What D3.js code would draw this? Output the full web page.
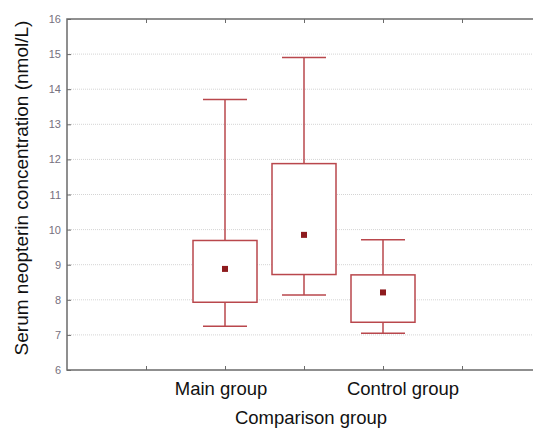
<!DOCTYPE html>
<html>
<head>
<meta charset="utf-8">
<script src="https://cdn.jsdelivr.net/npm/d3@7"></script>
<style>
  body { margin: 0; background: #fff; }
  svg { display: block; }
  text { font-family: "Liberation Sans", Arial, sans-serif; }
</style>
</head>
<body>
<div id="chart"></div>
<script>
// data
var groups   = ["Main group", "", "Control group"];
var groupPos = [2, 3, 4];            // slot on the category axis
var whiskLo  = [7.25, 8.14, 7.05];
var boxLo    = [7.93, 8.72, 7.36];
var means    = [8.88, 9.85, 8.21];
var boxHi    = [9.69, 11.88, 8.71];
var whiskHi  = [13.71, 14.90, 9.71];
var yTicks   = [6, 7, 8, 9, 10, 11, 12, 13, 14, 15, 16];
var xTicks   = [1, 2, 3, 4, 5];

var W = 533, H = 429;
var margin = {top: 19, left: 67, bottom: 59};

var svg = d3.select("#chart")
  .append("svg")
    .attr("width", W)
    .attr("height", H);

// x axis runs past the right edge of the window, like the source
var x = d3.scaleLinear()
  .domain([0, 6])
  .range([margin.left, margin.left + 79 * 6]);

var y = d3.scaleLinear()
  .domain([6, 16])
  .range([H - margin.bottom, margin.top]);

var axisCol = "#6b6b6b";
var boxCol = "#b9474c";

// gridlines
svg.append("g")
  .selectAll("line")
  .data(yTicks.slice(1, -1))
  .enter()
  .append("line")
    .attr("x1", x(0))
    .attr("x2", x(6))
    .attr("y1", function(d) { return y(d); })
    .attr("y2", function(d) { return y(d); })
    .attr("stroke", "#d4d4d4")
    .attr("stroke-dasharray", "1,1");

// left axis
var yAxis = svg.append("g")
  .attr("transform", "translate(" + x(0) + ",0)")
  .call(d3.axisRight(y).tickValues(yTicks).tickSize(4).tickFormat(""));
yAxis.select(".domain").remove();
yAxis.selectAll("line").attr("stroke", axisCol);

svg.append("g")
  .selectAll("text")
  .data(yTicks)
  .enter()
  .append("text")
    .attr("x", x(0) - 6)
    .attr("y", function(d) { return y(d) + 4; })
    .attr("text-anchor", "end")
    .attr("font-size", 11)
    .attr("fill", "#76707e")
    .text(function(d) { return d; });

// bottom + top ticks
var bAxis = svg.append("g")
  .attr("transform", "translate(0," + y(6) + ")")
  .call(d3.axisTop(x).tickValues(xTicks).tickSize(4).tickFormat(""));
bAxis.select(".domain").remove();
bAxis.selectAll("line").attr("stroke", axisCol);

var tAxis = svg.append("g")
  .attr("transform", "translate(0," + y(16) + ")")
  .call(d3.axisBottom(x).tickValues(xTicks).tickSize(4).tickFormat(""));
tAxis.select(".domain").remove();
tAxis.selectAll("line").attr("stroke", axisCol);

// frame
svg.append("path")
  .attr("d", "M" + x(6) + "," + y(16) + "H" + x(0) + "V" + y(6) + "H" + x(6))
  .attr("fill", "none")
  .attr("stroke", axisCol)
  .attr("stroke-width", 1.5);

// boxes
var idx = d3.range(groups.length);
var boxW = 64, capW = 44;

var g = svg.append("g")
  .selectAll("g")
  .data(idx)
  .enter()
  .append("g");

g.append("line")
  .attr("x1", function(i) { return x(groupPos[i]); })
  .attr("x2", function(i) { return x(groupPos[i]); })
  .attr("y1", function(i) { return y(whiskHi[i]); })
  .attr("y2", function(i) { return y(boxHi[i]); })
  .attr("stroke", boxCol).attr("stroke-width", 1.5);

g.append("line")
  .attr("x1", function(i) { return x(groupPos[i]); })
  .attr("x2", function(i) { return x(groupPos[i]); })
  .attr("y1", function(i) { return y(boxLo[i]); })
  .attr("y2", function(i) { return y(whiskLo[i]); })
  .attr("stroke", boxCol).attr("stroke-width", 1.5);

g.append("line")
  .attr("x1", function(i) { return x(groupPos[i]) - capW / 2; })
  .attr("x2", function(i) { return x(groupPos[i]) + capW / 2; })
  .attr("y1", function(i) { return y(whiskHi[i]); })
  .attr("y2", function(i) { return y(whiskHi[i]); })
  .attr("stroke", boxCol).attr("stroke-width", 1.5);

g.append("line")
  .attr("x1", function(i) { return x(groupPos[i]) - capW / 2; })
  .attr("x2", function(i) { return x(groupPos[i]) + capW / 2; })
  .attr("y1", function(i) { return y(whiskLo[i]); })
  .attr("y2", function(i) { return y(whiskLo[i]); })
  .attr("stroke", boxCol).attr("stroke-width", 1.5);

g.append("rect")
  .attr("x", function(i) { return x(groupPos[i]) - boxW / 2; })
  .attr("y", function(i) { return y(boxHi[i]); })
  .attr("width", boxW)
  .attr("height", function(i) { return y(boxLo[i]) - y(boxHi[i]); })
  .attr("fill", "#fff")
  .attr("stroke", boxCol).attr("stroke-width", 1.5);

g.append("rect")
  .attr("x", function(i) { return x(groupPos[i]) - 3; })
  .attr("y", function(i) { return y(means[i]) - 3; })
  .attr("width", 6)
  .attr("height", 6)
  .attr("fill", "#8e1b1e");

// category labels (source places them a bit off the ticks)
var labelShift = [-4, 0, 20];
svg.append("g")
  .selectAll("text")
  .data(idx.filter(function(i) { return groups[i] !== ""; }))
  .enter()
  .append("text")
    .attr("x", function(i) { return x(groupPos[i]) + labelShift[i]; })
    .attr("y", 395)
    .attr("text-anchor", "middle")
    .attr("font-size", 18.5)
    .attr("fill", "#111")
    .text(function(i) { return groups[i]; });

// axis titles
svg.append("text")
  .attr("x", 311)
  .attr("y", 424)
  .attr("text-anchor", "middle")
  .attr("font-size", 18.5)
  .attr("fill", "#111")
  .text("Comparison group");

svg.append("text")
  .attr("transform", "translate(28,188)rotate(-90)")
  .attr("text-anchor", "middle")
  .attr("font-size", 19)
  .attr("fill", "#111")
  .text("Serum neopterin concentration (nmol/L)");
</script>
</body>
</html>
